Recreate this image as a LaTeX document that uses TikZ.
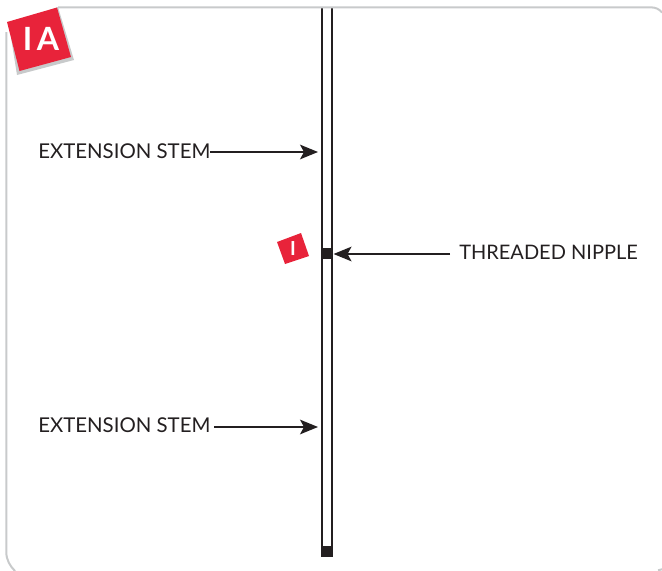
\documentclass[tikz,border=0pt]{standalone}
\usepackage{fontspec}
\setmainfont{Lato}
\usetikzlibrary{arrows.meta}
\definecolor{framegrey}{HTML}{C8CACB}
\definecolor{badgered}{HTML}{E8233A}
\definecolor{inkdark}{HTML}{231F20}
\tikzset{
  stem/.style={draw=inkdark,line width=1.5pt},
  nipple/.style={fill=inkdark,draw=none,inner sep=0pt},
  lbl/.style={text=inkdark,font=\fontsize{15pt}{17pt}\selectfont,inner sep=0pt,anchor=base west},
  stemlbl/.style={lbl,font=\fontsize{15.3pt}{17pt}\selectfont},
  pointer/.style={draw=inkdark,line width=1pt,-{Stealth[length=13.5pt,width=11pt,inset=3pt]}},
  frameline/.style={draw=framegrey,line width=1.5pt},
}
\begin{document}
\begin{tikzpicture}[x=0.75pt,y=-0.75pt]
\useasboundingbox (0,0) rectangle (662,571);
% stems (open-ended, the frame passes over the top)
\draw[stem] (321.5,8) -- (321.5,249) (332.3,8) -- (332.3,249);
\draw[stem] (321.5,258) -- (321.5,547) (332.3,258) -- (332.3,547);
% frame
\draw[frameline] (58,7.3) -- (650,7.3) .. controls (656,7.3) and (659,9) .. (662,12.5);
\draw[frameline] (6.3,32) -- (6.3,552) .. controls (6.3,560) and (10,566) .. (15,571);
\draw[frameline] (658,570.3) -- (662,569.3);
% large badge
\fill[framegrey] (9,25) -- (58,7) -- (74,60) -- (17,75) -- cycle;
\fill[badgered] (7,22) -- (57,7.5) -- (71,57) -- (19.5,71) -- cycle;
\node[text=white,font=\bfseries\fontsize{24pt}{26pt}\selectfont,inner sep=0pt] (badgeA) at (41,39) {I\kern3.5pt A};
% nipples
\node[nipple,minimum width=9.4pt,minimum height=8.2pt] (nip) at (327,253.5) {};
\node[nipple,minimum width=9.4pt,minimum height=8.2pt] (nipend) at (327,551.5) {};
% small badge
\fill[badgered] (277,242) -- (301,233) -- (309,256) -- (285,264) -- cycle;
\node[text=white,font=\bfseries\fontsize{14.5pt}{16pt}\selectfont,inner sep=0pt] (badgeI) at (293,249) {I};
% labels
\node[stemlbl] (s1) at (38,158) {EXTENSION STEM};
\node[stemlbl] (s2) at (38,432) {EXTENSION STEM};
\node[lbl] (tn) at (459,259) {THREADED NIPPLE};
\coordinate (t1) at (318,152);
\coordinate (t2) at (318,427);
\coordinate (l2) at (214,427);
\coordinate (l3) at (450,254);
\coordinate (l1) at (210,152);
\draw[pointer] (l1) -- (t1);
\draw[pointer] (l2) -- (t2);
\draw[pointer] (l3) -- (nip.east |- l3);
\end{tikzpicture}
\end{document}
